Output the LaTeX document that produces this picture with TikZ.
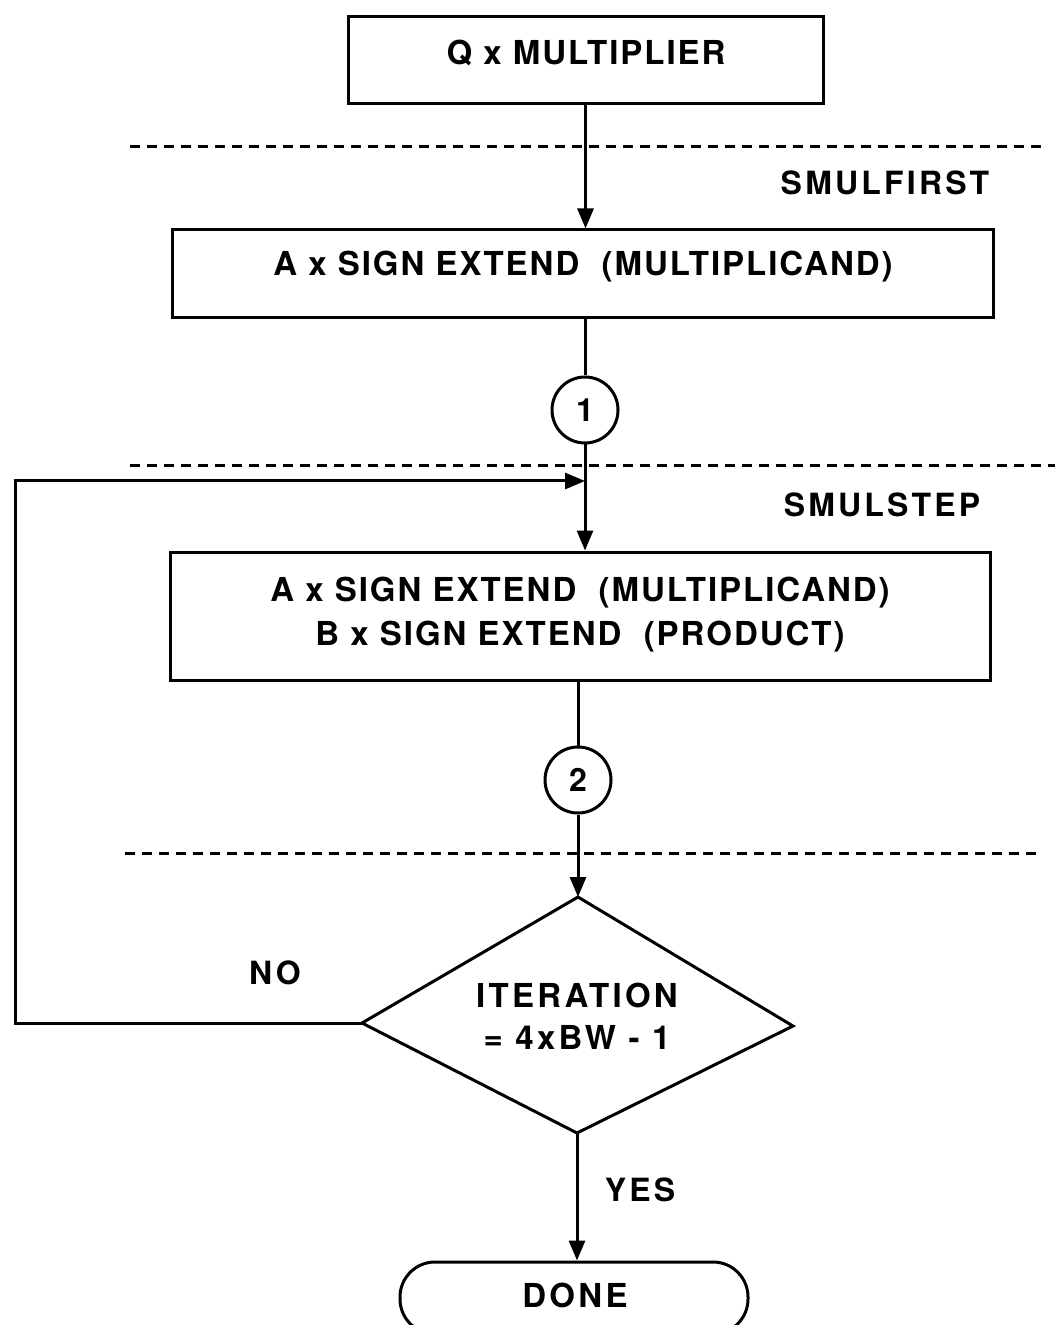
\documentclass[tikz,border=0pt]{standalone}
\usepackage{fontspec}
\setmainfont{TeX Gyre Heros}
\newfontfamily\boxfont[LetterSpace=6]{TeX Gyre Heros}
\newfontfamily\labfont[LetterSpace=10]{TeX Gyre Heros}
\usetikzlibrary{arrows.meta,calc}

\begin{document}
\begin{tikzpicture}[x=0.5pt,y=-0.5pt,
  line width=1.5pt,
  box/.style={draw, rectangle, inner sep=0pt},
  txt/.style={font=\boxfont\bfseries\fontsize{16.5}{20}\selectfont, align=center, inner sep=0pt},
  dtxt/.style={font=\labfont\bfseries\fontsize{16.5}{20}\selectfont, align=center, inner sep=0pt},
  conn/.style={circle, draw, minimum size=33pt, inner sep=0pt,
               font=\bfseries\fontsize{16}{19}\selectfont},
  arr/.style={-{Triangle[length=10pt,width=8pt]}},
  sep/.style={line width=1.5pt, dash pattern=on 5pt off 3.5pt},
  lab/.style={font=\labfont\bfseries\fontsize{16}{19}\selectfont, inner sep=0pt}]

\clip (0,0) rectangle (1055,1325);

% process boxes
\node[box, minimum width=237.5pt, minimum height=43.5pt] (b1) at (585.5,60.5) {};
\node[txt] (t1) at (586,53) {Q x MULTIPLIER};

\node[box, minimum width=410.5pt, minimum height=44pt] (b2) at (582.5,274) {};
\node[txt] (t2) at (583,267) {A x SIGN EXTEND \ (MULTIPLICAND)};

\node[box, minimum width=410pt, minimum height=64pt] (b3) at (580,616) {};
\node[txt] (t3) at (580,615) {A x SIGN EXTEND \ (MULTIPLICAND)\\[2pt]B x SIGN EXTEND \ (PRODUCT)};

% connectors (off-page markers)
\node[conn] (c1) at (585,410) {1};
\node[conn] (c2) at (578,780) {2};

% decision
\coordinate (dt) at (578,897);
\coordinate (dr) at (793,1026);
\coordinate (db) at (577,1133);
\coordinate (dl) at (362,1023);
\draw (dt) -- (dr) -- (db) -- (dl) -- cycle;
\node[dtxt] (t4) at (577,1016) {ITERATION\\[1pt]= 4xBW - 1};

% terminal
\node[draw, rounded corners=17.5pt, minimum width=174pt, minimum height=36pt, inner sep=0pt] (done) at (574,1298) {};
\node[dtxt] (t5) at (575,1295) {DONE};

% phase separators
\coordinate (s1a) at (130,147);  \coordinate (s1b) at (1045,147);
\coordinate (s2a) at (130,466);  \coordinate (s2b) at (1055,466);
\coordinate (s3a) at (125,853);  \coordinate (s3b) at (1040,853);
\draw[sep] (s1a) -- (s1b);
\draw[sep] (s2a) -- (s2b);
\draw[sep] (s3a) -- (s3b);

\node[lab] (l1) at (885,183) {SMULFIRST};
\node[lab] (l2) at (882,505) {SMULSTEP};
\node[lab] (l3) at (275,973) {NO};
\node[lab] (l4) at (640,1190) {YES};

% flow
\draw[arr] (b1.south) -- (b1.south |- b2.north);
\draw (b2.south -| c1) -- (c1.north);
\draw[arr] (c1.south) -- (c1.south |- b3.north);
\draw (b3.south -| c2) -- (c2.north);
\draw[arr] (c2.south) -- (dt);
\draw[arr] (db) -- (db |- done.north);

% loop back
\coordinate (lc) at (15,481);
\coordinate (j) at (585,481);
\draw[arr] (dl) -| (lc) -- (j);

\end{tikzpicture}
\end{document}
